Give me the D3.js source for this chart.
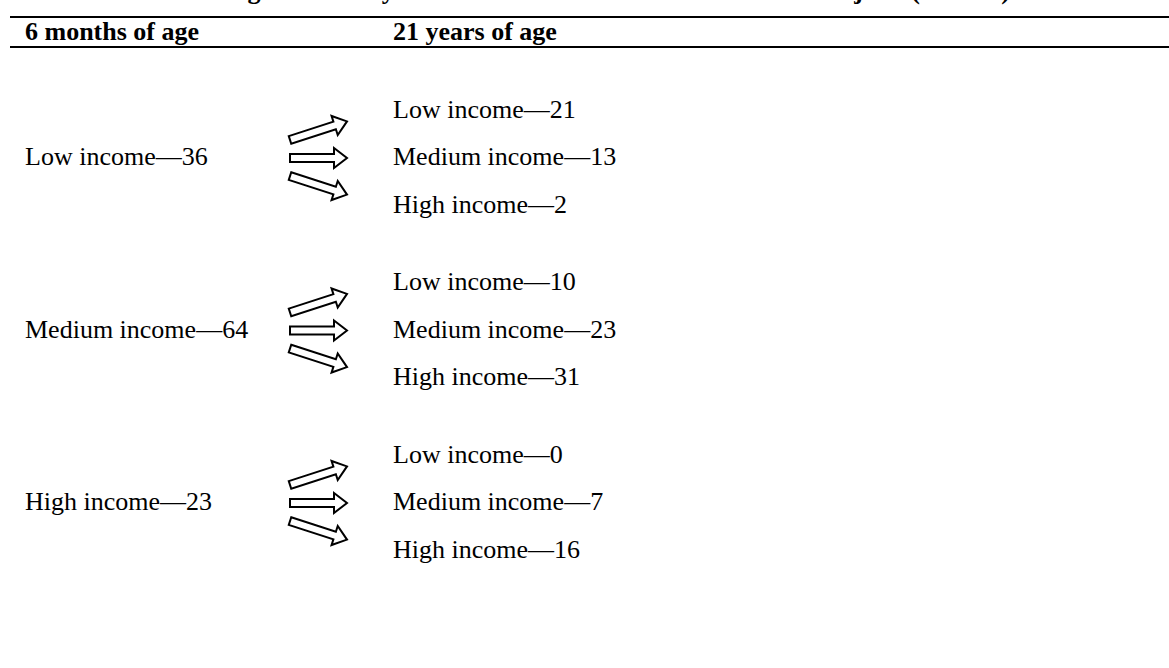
<!DOCTYPE html>
<html>
<head>
<meta charset="utf-8">
<script src="https://cdn.jsdelivr.net/npm/d3@7"></script>
<style>
  html, body { margin: 0; padding: 0; background: #fff; }
  svg { display: block; }
</style>
</head>
<body>
<svg id="chart"></svg>
<script>
(function () {
    'use strict';

    // cropped caption above the table (only the descenders show)
    const title = "Table 4. Changes in Family Income Levels Over Time Across All Subjects (n = 123)";
    const headers = ["6 months of age", "21 years of age"];

    // income group at 6 months and its size
    const startGroups = ["Low income", "Medium income", "High income"];
    const startCounts = [36, 64, 23];

    // income group at 21 years, one row per start group
    const endGroups = ["Low income", "Medium income", "High income"];
    const endCounts = [
        [21, 13, 2],
        [10, 23, 31],
        [0, 7, 16]
    ];

    const width = 1169;
    const height = 668;
    const font = "'Liberation Serif', 'Times New Roman', Times, serif";
    const fontSize = 26;

    const svg = d3.select('#chart')
        .attr("width", width)
        .attr("height", height)
        .style("font-family", font)
        .style("font-size", fontSize + "px");

    const col = d3.scaleOrdinal()
        .domain(["start", "arrowTail", "arrowTip", "end"])
        .range([25, 290, 347, 393]);

    const groupY = d3.scalePoint()
        .domain(startGroups)
        .range([165, 510]);

    const rowOff = d3.scalePoint()
        .domain(endGroups)
        .range([-47.5, 47.5]);

    // caption, pushed off the top edge
    svg.append("text")
        .attr("x", 93)
        .attr("y", -1)
        .attr("font-weight", "bold")
        .text(title);

    // rules
    const rules = [17, 47];
    svg.append("g")
        .selectAll("line")
        .data(rules)
        .join("line")
        .attr("x1", 10)
        .attr("x2", width)
        .attr("y1", d => d)
        .attr("y2", d => d)
        .attr("stroke", "#000")
        .attr("stroke-width", 2);

    svg.append("g")
        .attr("font-weight", "bold")
        .selectAll("text")
        .data(headers)
        .join("text")
        .attr("x", (d, i) => i === 0 ? col("start") : col("end"))
        .attr("y", 40)
        .text(d => d);

    // hollow block arrow along +x, rotated into place
    const shaft = 4, head = 10, headLen = 13;
    function arrowPath(x0, y0, x1, y1) {
        const len = Math.hypot(x1 - x0, y1 - y0);
        const pts = [
            [0, -shaft], [len - headLen, -shaft], [len - headLen, -head],
            [len, 0], [len - headLen, head], [len - headLen, shaft], [0, shaft]
        ];
        const a = Math.atan2(y1 - y0, x1 - x0);
        const c = Math.cos(a), s = Math.sin(a);
        return d3.line()(pts.map(p => [x0 + p[0] * c - p[1] * s, y0 + p[0] * s + p[1] * c])) + "Z";
    }

    const groups = svg.append("g")
        .selectAll("g")
        .data(startGroups.map((g, i) => ({ name: g, n: startCounts[i], ends: endCounts[i] })))
        .join("g")
        .attr("transform", d => `translate(0,${groupY(d.name)})`);

    groups.append("text")
        .attr("x", col("start"))
        .attr("y", 0)
        .text(d => `${d.name}\u2014${d.n}`);

    // arrows fan out toward the three rows on the right
    const mid = -7;
    groups.selectAll("path")
        .data(() => endGroups)
        .join("path")
        .attr("d", e => {
            const dy = rowOff(e);
            return arrowPath(col("arrowTail"), mid + dy * 0.38, col("arrowTip"), mid + dy * 0.77);
        })
        .attr("fill", "#fff")
        .attr("stroke", "#000")
        .attr("stroke-width", 2)
        .attr("stroke-linejoin", "miter");

    groups.selectAll("text.end")
        .data(d => d.ends.map((v, j) => ({ name: endGroups[j], v })))
        .join("text")
        .attr("class", "end")
        .attr("x", col("end"))
        .attr("y", e => rowOff(e.name))
        .text(e => `${e.name}\u2014${e.v}`);
}());
</script>
</body>
</html>
